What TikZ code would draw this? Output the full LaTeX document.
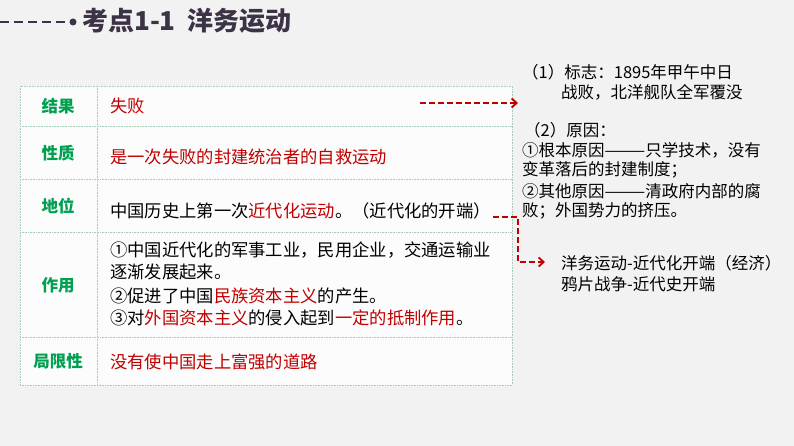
\documentclass[tikz,border=0pt]{standalone}
\usepackage{fontspec}
\newfontfamily\cjk{Noto Sans CJK SC}
\usetikzlibrary{arrows.meta}
\definecolor{myred}{HTML}{C00000}
\definecolor{mygreen}{HTML}{00A050}
\definecolor{ttl}{HTML}{3D3346}
\definecolor{grid}{HTML}{A8CDB8}
\tikzset{
  txt/.style={anchor=west,inner sep=0pt,font=\cjk\fontsize{17.3}{19}\selectfont},
  rt/.style={anchor=west,inner sep=0pt,font=\cjk\fontsize{16.5}{18}\selectfont},
  lab/.style={inner sep=0pt,font=\cjk\bfseries\fontsize{16.5}{18}\selectfont,text=mygreen},
  rl/.style={draw=grid,densely dotted,line width=0.6pt},
  arr/.style={draw=myred,dash pattern=on 6pt off 3pt,line width=1.8pt,-{Straight Barb[length=5pt,width=9pt]}}
}
\newcommand{\R}[1]{\textcolor{myred}{#1}}
\begin{document}
\begin{tikzpicture}[x=1pt,y=-1pt]
\fill[gray!10] (0,0) rectangle (794,446);
\useasboundingbox (0,0) rectangle (794,446);
\draw[ttl,line width=2pt,dash pattern=on 9pt off 5pt] (0,22) -- (66,22);
\fill[ttl] (73,22) circle (3.5pt);
\node[anchor=west,inner sep=0pt,font=\cjk\bfseries\fontsize{26}{29}\selectfont,text=ttl] (title) at (82,21) {考点1-1\ \ 洋务运动};
\fill[white!60!gray!5] (20,86) rectangle (512,385);
\draw[rl] (20,86) rectangle (512,385);
\draw[rl] (97,86) -- (97,385);
\foreach \y in {126,179,232,337} \draw[rl] (20,\y) -- (512,\y);
\node[lab] (l1) at (58,106) {结果};
\node[lab] (l2) at (58,153) {性质};
\node[lab] (l3) at (58,206) {地位};
\node[lab] (l4) at (58,285) {作用};
\node[lab] (l5) at (58,361) {局限性};
\node[txt,text=myred] (t1) at (110,106) {失败};
\node[txt,text=myred] (t2) at (110,157) {是一次失败的封建统治者的自救运动};
\node[txt] (t3) at (110,211) {中国历史上第一次\R{近代化运动}。（近代化的开端）};
\node[txt] (t4a) at (110,250) {①中国近代化的军事工业，民用企业，交通运输业};
\node[txt] (t4b) at (110,272) {逐渐发展起来。};
\node[txt] (t4c) at (110,296) {②促进了中国\R{民族资本主义}的产生。};
\node[txt] (t4d) at (110,318) {③对\R{外国资本主义}的侵入起到\R{一定的抵制作用}。};
\node[txt,text=myred] (t5) at (110,362) {没有使中国走上富强的道路};
\node[rt] (r1) at (522,72) {（1）标志：1895年甲午中日};
\node[rt] (r2) at (561,92) {战败，北洋舰队全军覆没};
\node[rt] (r3) at (524,130) {（2）原因：};
\node[rt] (r4) at (522,150) {①根本原因———只学技术，没有};
\node[rt] (r5) at (522,170) {变革落后的封建制度；};
\node[rt] (r6) at (522,191) {②其他原因———清政府内部的腐};
\node[rt] (r7) at (522,211) {败；外国势力的挤压。};
\node[rt] (s1) at (561,263) {洋务运动-近代化开端（经济）};
\node[rt] (s2) at (561,284) {鸦片战争-近代史开端};
\coordinate (a1) at (420,103);
\coordinate (a2) at (518,103);
\draw[arr] (a1) -- (a2);
\coordinate (b1) at (493,217);
\coordinate (b2) at (518,217);
\coordinate (b3) at (545,262);
\draw[arr] (b1) -- (b2) |- (b3);
\end{tikzpicture}
\end{document}
